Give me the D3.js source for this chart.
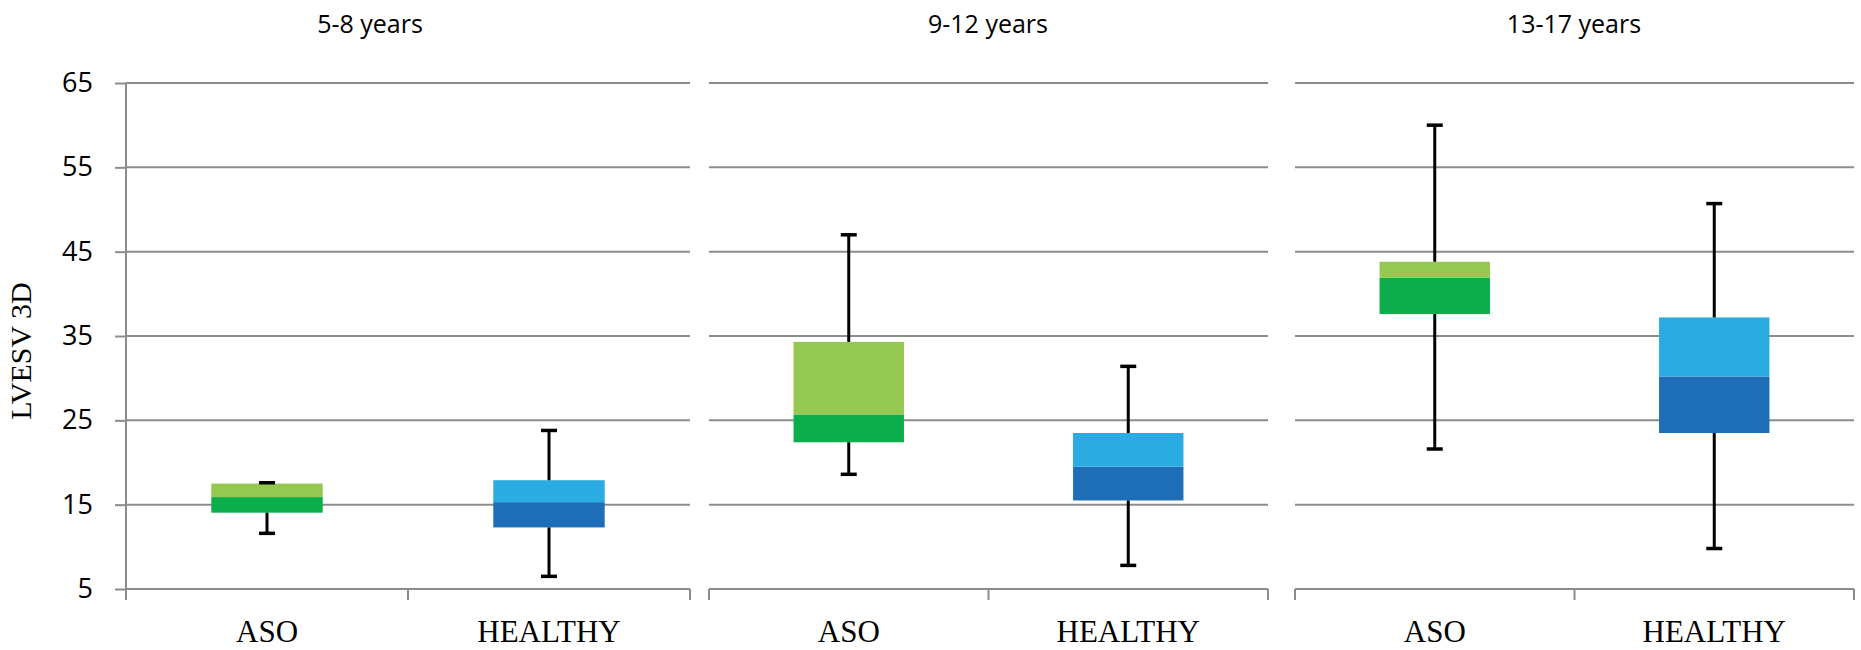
<!DOCTYPE html>
<html>
<head>
<meta charset="utf-8">
<script src="https://cdnjs.cloudflare.com/ajax/libs/d3/7.8.5/d3.min.js"></script>
<style>
    body { margin: 0; background: #ffffff; }
    svg { display: block; }
</style>
</head>
<body>
<div id="chart"></div>
<script>
// chart data
var panels = ["5-8 years", "9-12 years", "13-17 years"];
var groups = ["ASO", "HEALTHY"];
var minValues    = [[11.6, 6.5], [18.6, 7.8], [21.6, 9.8]];
var q1Values     = [[14.05, 12.3], [22.4, 15.5], [37.6, 23.5]];
var medianValues = [[15.9, 15.3], [25.7, 19.5], [41.9, 30.2]];
var q3Values     = [[17.5, 17.9], [34.3, 23.5], [43.8, 37.2]];
var maxValues    = [[17.6, 23.8], [47.0, 31.4], [60.0, 50.7]];
var yTicks = [5, 15, 25, 35, 45, 55, 65];
var yTitle = "LVESV 3D";

// layout
var width = 1861, height = 650;
var plotTop = 83, plotBottom = 589;
var panelExtents = [[126, 690], [709, 1268], [1295, 1854]];
var titleCenters = [370, 988, 1574];
var lowerColors = { "ASO": "#0bae4a", "HEALTHY": "#1d6eb6" };
var upperColors = { "ASO": "#94c850", "HEALTHY": "#2aabe2" };
var gridColor = "#8c8c8c";

var svg = d3.select("#chart")
    .append("svg")
    .attr("width", width)
    .attr("height", height);

var y = d3.scaleLinear()
    .domain([5, 65])
    .range([plotBottom, plotTop]);

// Y axis title
svg.append("text")
    .attr("transform", "translate(31," + 351 + ") rotate(-90)")
    .attr("text-anchor", "middle")
    .style("font-family", "'Liberation Serif', 'Times New Roman', serif")
    .style("font-size", "30px")
    .attr("fill", "#000")
    .text(yTitle);

// Y axis (first panel only)
var yAxis = svg.append("g")
    .attr("transform", "translate(" + panelExtents[0][0] + ",0)")
    .call(d3.axisLeft(y).tickValues(yTicks).tickSize(11).tickPadding(22).tickFormat(d3.format("d")));
yAxis.select(".domain")
    .attr("stroke", gridColor)
    .attr("stroke-width", 2)
    .attr("d", "M0," + plotTop + "V" + (plotBottom + 11));
yAxis.selectAll(".tick line")
    .attr("stroke", gridColor)
    .attr("stroke-width", 2);
yAxis.selectAll(".tick text")
    .attr("fill", "#000")
    .style("font-family", "'Open Sans', sans-serif")
    .style("font-size", "27px");

panels.forEach(function (panelName, p) {
    var x0 = panelExtents[p][0], x1 = panelExtents[p][1];

    var x = d3.scaleBand()
        .domain(groups)
        .range([x0, x1])
        .padding(0);

    var boxW = x.bandwidth() * 0.395;
    var g = svg.append("g");

    // horizontal gridlines
    g.selectAll(".grid")
        .data(yTicks.filter(function (d) { return d !== 5; }))
        .enter()
        .append("line")
        .attr("x1", x0)
        .attr("x2", x1)
        .attr("y1", function (d) { return y(d); })
        .attr("y2", function (d) { return y(d); })
        .attr("stroke", gridColor)
        .attr("stroke-width", 2);

    // X axis with tick marks at band edges
    var xAxis = g.append("g")
        .attr("transform", "translate(0," + y(5) + ")")
        .call(d3.axisBottom(x).tickSize(0).tickPadding(31));
    xAxis.select(".domain").remove();
    xAxis.selectAll(".tick text")
        .attr("fill", "#000")
        .style("font-family", "'Liberation Serif', 'Times New Roman', serif")
        .style("font-size", "31px");
    xAxis.append("line")
        .attr("x1", x0).attr("x2", x1)
        .attr("y1", 0).attr("y2", 0)
        .attr("stroke", gridColor)
        .attr("stroke-width", 2);
    xAxis.selectAll(".edge")
        .data([x0, x0 + x.bandwidth(), x1])
        .enter()
        .append("line")
        .attr("x1", function (d) { return d; })
        .attr("x2", function (d) { return d; })
        .attr("y1", 0)
        .attr("y2", 11)
        .attr("stroke", gridColor)
        .attr("stroke-width", 2);

    // panel title
    svg.append("text")
        .attr("x", titleCenters[p])
        .attr("y", 33)
        .attr("text-anchor", "middle")
        .attr("fill", "#000")
        .style("font-family", "'Open Sans', sans-serif")
        .style("font-size", "25px")
        .text(panelName);

    groups.forEach(function (grp, i) {
        var cx = x(grp) + x.bandwidth() / 2;
        var mn = minValues[p][i], q1 = q1Values[p][i], md = medianValues[p][i],
            q3 = q3Values[p][i], mx = maxValues[p][i];

        // lower half of the box (q1 - median)
        g.append("rect")
            .attr("x", cx - boxW / 2)
            .attr("y", y(md))
            .attr("width", boxW)
            .attr("height", y(q1) - y(md))
            .attr("fill", lowerColors[grp]);

        // upper half of the box (median - q3)
        g.append("rect")
            .attr("x", cx - boxW / 2)
            .attr("y", y(q3))
            .attr("width", boxW)
            .attr("height", y(md) - y(q3))
            .attr("fill", upperColors[grp]);

        // whiskers
        g.append("line")
            .attr("x1", cx).attr("x2", cx)
            .attr("y1", y(q1)).attr("y2", y(mn))
            .attr("stroke", "#000").attr("stroke-width", 3);
        g.append("line")
            .attr("x1", cx).attr("x2", cx)
            .attr("y1", y(q3)).attr("y2", y(mx))
            .attr("stroke", "#000").attr("stroke-width", 3);

        // caps
        [mn, mx].forEach(function (v) {
            g.append("line")
                .attr("x1", cx - 8).attr("x2", cx + 8)
                .attr("y1", y(v)).attr("y2", y(v))
                .attr("stroke", "#000").attr("stroke-width", 3.5);
        });
    });
});
</script>
</body>
</html>
